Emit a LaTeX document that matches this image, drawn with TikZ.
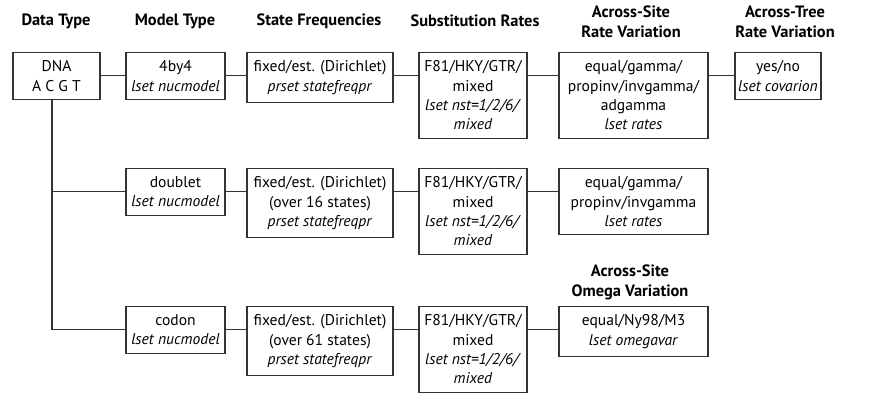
\documentclass[tikz,border=0pt]{standalone}
\usepackage{fontspec}
\setmainfont{PT Sans}
\begin{document}
\begin{tikzpicture}[x=0.5pt,y=-0.5pt,line width=0.55pt,draw=black!80,
    head/.style={font=\fontsize{8.2}{10}\selectfont\bfseries,align=center,inner sep=0pt},
    box/.style={draw=black!80,anchor=north,align=center,inner xsep=1pt,inner ysep=4pt,
      font=\fontsize{7.8}{9.7}\selectfont}]

      \useasboundingbox (0,0) rectangle (871,414);

      \begin{scope}[every node/.style={head}]
        \node (h1) at (56,21) {Data Type};
        \node (h2) at (175,21) {Model Type};
        \node (h3) at (319,21) {State Frequencies};
        \node (h4) at (475,21) {Substitution Rates};
        \node (h5) at (631,22) {Across-Site\\Rate Variation};
        \node (h6) at (785,22) {Across-Tree\\Rate Variation};
        \node (h7) at (630,282) {Across-Site\\Omega Variation};
      \end{scope}

      \begin{scope}[every node/.style={box}]
        \node[minimum width=43.5pt] (dna) at (56.5,52) {DNA\\A C G T};
        \node[minimum width=49.5pt] (4by4) at (175.5,52) {4by4\\\textit{lset nucmodel}};
        \node[minimum width=73pt] (sf1) at (320,52) {fixed/est. (Dirichlet)\\\textit{prset statefreqpr}};
        \node[minimum width=54pt] (sr1) at (473,52) {F81/HKY/GTR/\\mixed\\\textit{lset nst=1/2/6/}\\\textit{mixed}};
        \node[minimum width=74.5pt] (rv1) at (633.5,52) {equal/gamma/\\propinv/invgamma/\\adgamma\\\textit{lset rates}};
        \node[minimum width=43pt] (cov) at (778,52) {yes/no\\\textit{lset covarion}};

        \node[minimum width=49.5pt] (doublet) at (175.5,168) {doublet\\\textit{lset nucmodel}};
        \node[minimum width=73pt] (sf2) at (320,168) {fixed/est. (Dirichlet)\\(over 16 states)\\\textit{prset statefreqpr}};
        \node[minimum width=54pt] (sr2) at (473,168) {F81/HKY/GTR/\\mixed\\\textit{lset nst=1/2/6/}\\\textit{mixed}};
        \node[minimum width=74.5pt] (rv2) at (633.5,168) {equal/gamma/\\propinv/invgamma\\\textit{lset rates}};

        \node[minimum width=49.5pt] (codon) at (175.5,306) {codon\\\textit{lset nucmodel}};
        \node[minimum width=73pt] (sf3) at (320,306) {fixed/est. (Dirichlet)\\(over 61 states)\\\textit{prset statefreqpr}};
        \node[minimum width=54pt] (sr3) at (473,306) {F81/HKY/GTR/\\mixed\\\textit{lset nst=1/2/6/}\\\textit{mixed}};
        \node[minimum width=74.5pt] (om) at (633.5,306) {equal/Ny98/M3\\\textit{lset omegavar}};
      \end{scope}

      \coordinate (trunk) at (52,100);

      \begin{scope}[every edge/.style={draw=black!80}]
        \path (dna) edge (4by4);
        \path (4by4) edge (4by4 -| sf1.west);
        \path (sf1.east |- 4by4) edge (4by4 -| sr1.west);
        \path (sr1.east |- 4by4) edge (4by4 -| rv1.west);
        \path (rv1.east |- 4by4) edge (4by4 -| cov.west);
        \path (trunk) edge (trunk |- codon);
        \path (trunk |- doublet) edge (doublet);
        \path (trunk |- codon) edge (codon);
        \path (doublet) edge (doublet -| sf2.west);
        \path (sf2.east |- doublet) edge (doublet -| sr2.west);
        \path (sr2.east |- doublet) edge (doublet -| rv2.west);
        \path (codon) edge (codon -| sf3.west);
        \path (sf3.east |- codon) edge (codon -| sr3.west);
        \path (sr3.east |- codon) edge (codon -| om.west);
      \end{scope}

    \end{tikzpicture}
\end{document}
